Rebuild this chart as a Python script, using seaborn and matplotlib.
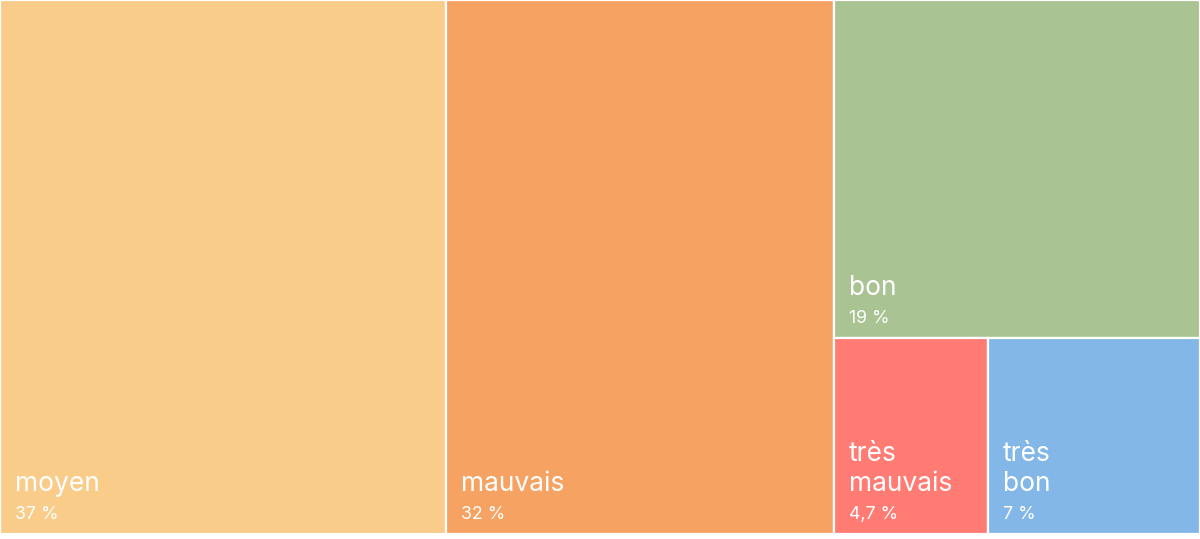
import matplotlib.pyplot as plt
import seaborn as sns

# qualité de l'air : part de chaque catégorie
labels = ["moyen", "mauvais", "bon", "très mauvais", "très bon"]
values = [37.2, 32.3, 19.3, 4.7, 6.5]
value_labels = ["37 %", "32 %", "19 %", "4,7 %", "7 %"]
colors = ["#F9CC8A", "#F5A262", "#A9C393", "#FF7B73", "#82B7E8"]

W, H = 1200, 539
AREA_H = 534

sns.set_theme(style="white")
plt.rcParams["font.family"] = ["Inter", "DejaVu Sans"]


def worst(row, side):
    s = sum(row)
    return max(max(side * side * r / (s * s), s * s / (side * side * r)) for r in row)


def squarify(sizes, x, y, w, h):
    """Treemap squarifié (Bruls et al.), garde l'ordre d'entrée."""
    total = sum(sizes)
    scaled = [v * w * h / total for v in sizes]
    rects = []
    i = 0
    while i < len(scaled):
        side = min(w, h)
        row = [scaled[i]]
        j = i + 1
        while j < len(scaled) and worst(row + [scaled[j]], side) <= worst(row, side):
            row.append(scaled[j])
            j += 1
        s = sum(row)
        if w >= h:  # colonne à gauche
            cw = s / h
            cy = y
            for r in row:
                rh = r / cw
                rects.append((x, cy, cw, rh))
                cy += rh
            x += cw
            w -= cw
        else:  # rangée en haut
            rh = s / w
            cx = x
            for r in row:
                rw = r / rh
                rects.append((cx, y, rw, rh))
                cx += rw
            y += rh
            h -= rh
        i = j
    return rects


rects = squarify(values, 0, 0, W, AREA_H)

fig = plt.figure(figsize=(12, 5.39), dpi=100)
ax = fig.add_axes([0, 0, 1, 1])
ax.set_xlim(0, W)
ax.set_ylim(H, 0)
ax.axis("off")

for (x, y, w, h), lab, pct, c in zip(rects, labels, value_labels, colors):
    ax.bar(x, h, width=w, bottom=y, align="edge", color=c,
           edgecolor="white", linewidth=1.6)
    bottom = y + h
    ax.text(x + 15, bottom - 15, pct, color="white", fontsize=12.8,
            ha="left", va="baseline")
    lines = lab.split(" ") if w < 250 else [lab]
    for k, line in enumerate(reversed(lines)):
        ax.text(x + 15, bottom - 43 - 30 * k, line, color="white",
                fontsize=19, ha="left", va="baseline")

fig.savefig("out.png", dpi=100)
